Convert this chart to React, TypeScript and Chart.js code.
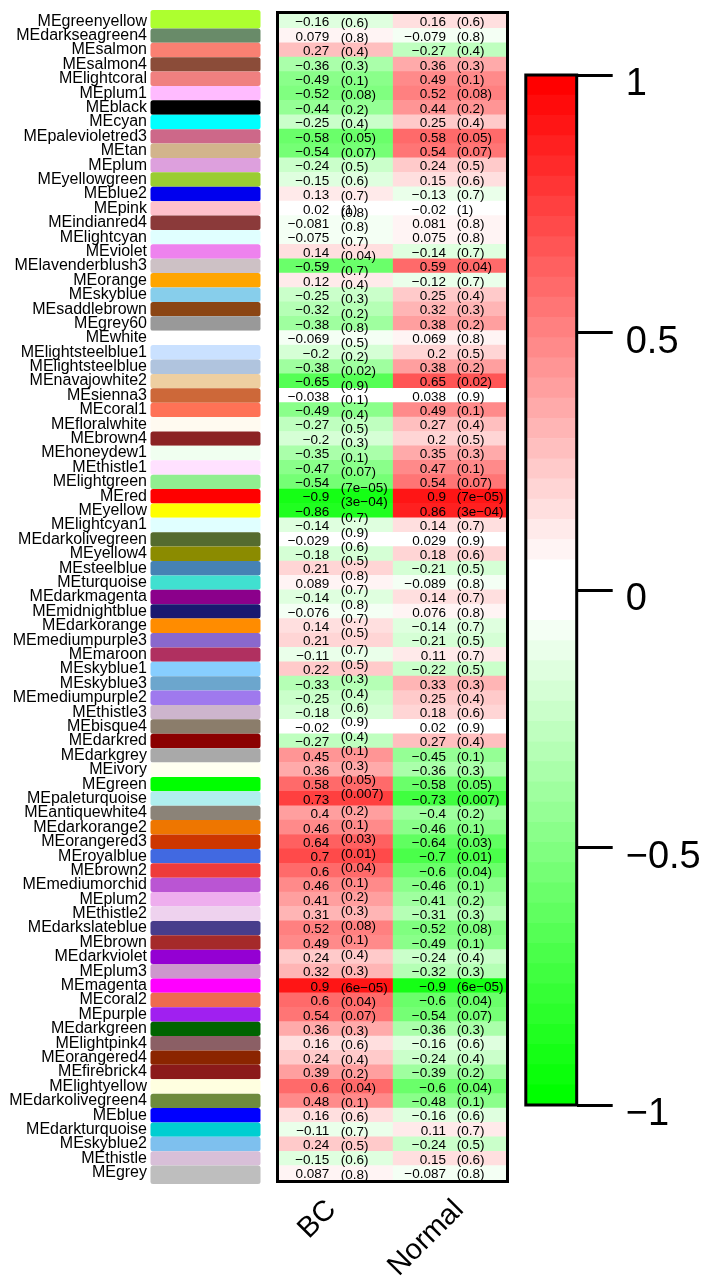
import React, { useEffect, useRef } from 'react';
import { Chart, registerables } from 'chart.js';

Chart.register(...registerables);

const FONT = '"Liberation Sans", Arial, Helvetica, sans-serif';

const modules = [
  'MEgreenyellow', 'MEdarkseagreen4', 'MEsalmon', 'MEsalmon4', 'MElightcoral', 'MEplum1', 'MEblack', 'MEcyan', 'MEpalevioletred3', 'MEtan',
  'MEplum', 'MEyellowgreen', 'MEblue2', 'MEpink', 'MEindianred4', 'MElightcyan', 'MEviolet', 'MElavenderblush3', 'MEorange', 'MEskyblue',
  'MEsaddlebrown', 'MEgrey60', 'MEwhite', 'MElightsteelblue1', 'MElightsteelblue', 'MEnavajowhite2', 'MEsienna3', 'MEcoral1', 'MEfloralwhite', 'MEbrown4',
  'MEhoneydew1', 'MEthistle1', 'MElightgreen', 'MEred', 'MEyellow', 'MElightcyan1', 'MEdarkolivegreen', 'MEyellow4', 'MEsteelblue', 'MEturquoise',
  'MEdarkmagenta', 'MEmidnightblue', 'MEdarkorange', 'MEmediumpurple3', 'MEmaroon', 'MEskyblue1', 'MEskyblue3', 'MEmediumpurple2', 'MEthistle3', 'MEbisque4',
  'MEdarkred', 'MEdarkgrey', 'MEivory', 'MEgreen', 'MEpaleturquoise', 'MEantiquewhite4', 'MEdarkorange2', 'MEorangered3', 'MEroyalblue', 'MEbrown2',
  'MEmediumorchid', 'MEplum2', 'MEthistle2', 'MEdarkslateblue', 'MEbrown', 'MEdarkviolet', 'MEplum3', 'MEmagenta', 'MEcoral2', 'MEpurple',
  'MEdarkgreen', 'MElightpink4', 'MEorangered4', 'MEfirebrick4', 'MElightyellow', 'MEdarkolivegreen4', 'MEblue', 'MEdarkturquoise', 'MEskyblue2', 'MEthistle', 'MEgrey',
];

const moduleColors = [
  '#ADFF2F', '#698B69', '#FA8072', '#8B4C39', '#F08080', '#FFBBFF', '#000000', '#00FFFF', '#CD6889', '#D2B48C',
  '#DDA0DD', '#9ACD32', '#0000EE', '#FFC0CB', '#8B3A3A', '#E0FFFF', '#EE82EE', '#CDC1C5', '#FFA500', '#87CEEB',
  '#8B4513', '#999999', '#FFFFFF', '#CAE1FF', '#B0C4DE', '#EECFA1', '#CD6839', '#FF7256', '#FFFAF0', '#8B2323',
  '#F0FFF0', '#FFE1FF', '#90EE90', '#FF0000', '#FFFF00', '#E0FFFF', '#556B2F', '#8B8B00', '#4682B4', '#40E0D0',
  '#8B008B', '#191970', '#FF8C00', '#8968CD', '#B03060', '#87CEFF', '#6CA6CD', '#9F79EE', '#CDB5CD', '#8B7D6B',
  '#8B0000', '#A9A9A9', '#FFFFF0', '#00FF00', '#AFEEEE', '#8B8378', '#EE7600', '#CD3700', '#4169E1', '#EE3B3B',
  '#BA55D3', '#EEAEEE', '#EED2EE', '#483D8B', '#A52A2A', '#9400D3', '#CD96CD', '#FF00FF', '#EE6A50', '#A020F0',
  '#006400', '#8B5F65', '#8B2500', '#8B1A1A', '#FFFFE0', '#6E8B3D', '#0000FF', '#00CED1', '#7EC0EE', '#D8BFD8', '#BEBEBE',
];

const conditions = ['BC', 'Normal'];

const bcCor = [
  -0.16, 0.079, 0.27, -0.36, -0.49, -0.52, -0.44, -0.25, -0.58, -0.54,
  -0.24, -0.15, 0.13, 0.02, -0.081, -0.075, 0.14, -0.59, 0.12, -0.25,
  -0.32, -0.38, -0.069, -0.2, -0.38, -0.65, -0.038, -0.49, -0.27, -0.2,
  -0.35, -0.47, -0.54, -0.9, -0.86, -0.14, -0.029, -0.18, 0.21, 0.089,
  -0.14, -0.076, 0.14, 0.21, -0.11, 0.22, -0.33, -0.25, -0.18, -0.02,
  -0.27, 0.45, 0.36, 0.58, 0.73, 0.4, 0.46, 0.64, 0.7, 0.6,
  0.46, 0.41, 0.31, 0.52, 0.49, 0.24, 0.32, 0.9, 0.6, 0.54,
  0.36, 0.16, 0.24, 0.39, 0.6, 0.48, 0.16, -0.11, 0.24, -0.15, 0.087,
];

const normalCor = [
  0.16, -0.079, -0.27, 0.36, 0.49, 0.52, 0.44, 0.25, 0.58, 0.54,
  0.24, 0.15, -0.13, -0.02, 0.081, 0.075, -0.14, 0.59, -0.12, 0.25,
  0.32, 0.38, 0.069, 0.2, 0.38, 0.65, 0.038, 0.49, 0.27, 0.2,
  0.35, 0.47, 0.54, 0.9, 0.86, 0.14, 0.029, 0.18, -0.21, -0.089,
  0.14, 0.076, -0.14, -0.21, 0.11, -0.22, 0.33, 0.25, 0.18, 0.02,
  0.27, -0.45, -0.36, -0.58, -0.73, -0.4, -0.46, -0.64, -0.7, -0.6,
  -0.46, -0.41, -0.31, -0.52, -0.49, -0.24, -0.32, -0.9, -0.6, -0.54,
  -0.36, -0.16, -0.24, -0.39, -0.6, -0.48, -0.16, 0.11, -0.24, 0.15, -0.087,
];

const pValues = [
  0.6, 0.8, 0.4, 0.3, 0.1, 0.08, 0.2, 0.4, 0.05, 0.07,
  0.5, 0.6, 0.7, 1, 0.8, 0.8, 0.7, 0.04, 0.7, 0.4,
  0.3, 0.2, 0.8, 0.5, 0.2, 0.02, 0.9, 0.1, 0.4, 0.5,
  0.3, 0.1, 0.07, 7e-5, 3e-4, 0.7, 0.9, 0.6, 0.5, 0.8,
  0.7, 0.8, 0.7, 0.5, 0.7, 0.5, 0.3, 0.4, 0.6, 0.9,
  0.4, 0.1, 0.3, 0.05, 0.007, 0.2, 0.1, 0.03, 0.01, 0.04,
  0.1, 0.2, 0.3, 0.08, 0.1, 0.4, 0.3, 6e-5, 0.04, 0.07,
  0.3, 0.6, 0.4, 0.2, 0.04, 0.1, 0.6, 0.7, 0.5, 0.6, 0.8,
];

const colorbarTicks = [-1, -0.5, 0, 0.5, 1];

// layout: in the BC column the p-value labels sit a little above their rows
// [firstRow, lastRow (1-based), shift in rows]
const BC_P_SHIFT: [number, number, number][] = [
  [15, 33, -0.76], [34, 35, -0.67], [36, 44, -0.56], [45, 55, -0.37], [56, 66, -0.24], [67, 67, -0.1],
];

const N_COLORS = 51; // greenWhiteRed(50)

function paletteColor(k: number): string {
  let r: number, g: number, b: number;
  if (k < 25) { r = k / 24; g = 1; b = k / 24; }
  else if (k === 25) { r = 1; g = 1; b = 1; }
  else { r = 1; g = 1 - (k - 26) / 24; b = 1 - (k - 26) / 24; }
  return `rgb(${Math.round(r * 255)},${Math.round(g * 255)},${Math.round(b * 255)})`;
}

function colorFor(v: number): string {
  const k = Math.min(N_COLORS - 1, Math.max(0, Math.floor(((v + 1) / 2) * N_COLORS)));
  return paletteColor(k);
}

const fmtNum = (v: number) => (v < 0 ? '\u2212' : '') + String(Math.abs(v));
const fmtP = (p: number) => {
  if (p < 0.001) {
    const [m, e] = p.toExponential(0).split('e');
    const ev = parseInt(e, 10);
    return `${m}e${ev < 0 ? '\u2212' : '+'}${String(Math.abs(ev)).padStart(2, '0')}`;
  }
  return String(p);
};
const bcShift = (row: number) => {
  for (const [a, b, s] of BC_P_SHIFT) if (row >= a && row <= b) return s;
  return 0.05;
};

const heatmapDecor = {
  id: 'heatmapDecor',
  afterDatasetsDraw(chart: any) {
    const { ctx, chartArea: a, scales } = chart;
    const x = scales.x;
    const y = scales.y;
    const rowH = Math.abs(y.getPixelForValue(1) - y.getPixelForValue(0));
    ctx.save();
    // module colour swatches
    modules.forEach((_, i) => {
      const yc = y.getPixelForValue(i);
      let top = yc - rowH / 2;
      let bot = yc + rowH / 2;
      if (i === 0) top -= 4;
      if (i === modules.length - 1) bot += 4;
      ctx.fillStyle = moduleColors[i];
      ctx.beginPath();
      (ctx as any).roundRect(150.5, top, 110, bot - top, 2.5);
      ctx.fill();
    });
    // cell texts
    ctx.font = `13.5px ${FONT}`;
    ctx.fillStyle = '#000';
    ctx.textBaseline = 'middle';
    const bcX = x.getPixelForValue(0.5);
    const nmX = x.getPixelForValue(1.5);
    modules.forEach((_, i) => {
      const yv = y.getPixelForValue(i) + 1.5;
      ctx.textAlign = 'right';
      ctx.fillText(fmtNum(bcCor[i]), bcX - 6.4, yv);
      ctx.fillText(fmtNum(normalCor[i]), nmX - 3.3, yv);
      ctx.textAlign = 'left';
      ctx.fillText(`(${fmtP(pValues[i])})`, bcX + 5, y.getPixelForValue(i + bcShift(i + 1)) + 1.5);
      ctx.fillText(`(${fmtP(pValues[i])})`, nmX + 7.4, yv);
    });
    // frame
    ctx.lineWidth = 3;
    ctx.strokeStyle = '#000';
    ctx.strokeRect(a.left - 1.5, a.top - 1.5, a.right - a.left + 3, a.bottom - a.top + 3);
    // column labels
    ctx.font = `29px ${FONT}`;
    ctx.textAlign = 'right';
    ctx.textBaseline = 'alphabetic';
    const anchors = [bcX + 1.5, nmX + 15.5];
    conditions.forEach((c, j) => {
      ctx.save();
      ctx.translate(anchors[j], a.bottom + 31);
      ctx.rotate(-Math.PI / 4);
      ctx.fillText(c, 0, 0);
      ctx.restore();
    });
    ctx.restore();
  },
};

const colorbarFrame = {
  id: 'colorbarFrame',
  afterDatasetsDraw(chart: any) {
    const { ctx, chartArea: a } = chart;
    ctx.save();
    ctx.lineWidth = 3;
    ctx.strokeStyle = '#000';
    ctx.strokeRect(a.left, a.top, a.right - a.left, a.bottom - a.top);
    ctx.restore();
  },
};

export default function App() {
  const heatRef = useRef<HTMLCanvasElement>(null);
  const barRef = useRef<HTMLCanvasElement>(null);

  useEffect(() => {
    const heat = new Chart(heatRef.current as HTMLCanvasElement, {
      type: 'bar',
      data: {
        labels: modules,
        datasets: conditions.map((c, j) => ({
          label: c,
          data: modules.map(() => [j, j + 1]) as any,
          backgroundColor: (j === 0 ? bcCor : normalCor).map(colorFor),
          borderWidth: 0,
          grouped: false,
          barPercentage: 1,
          categoryPercentage: 1,
        })),
      },
      options: {
        indexAxis: 'y',
        animation: false,
        responsive: false,
        devicePixelRatio: 1,
        events: [],
        layout: { padding: { left: 0, right: 205, top: 14, bottom: 98 } },
        plugins: { legend: { display: false }, tooltip: { enabled: false } },
        scales: {
          x: { type: 'linear', min: 0, max: 2, display: false },
          y: {
            type: 'category',
            position: 'left',
            offset: true,
            grid: { display: false, drawTicks: true, tickLength: 132 },
            border: { display: false },
            ticks: { autoSkip: false, padding: 0, color: '#000', font: { family: FONT, size: 16 } },
            afterFit: (s: any) => { s.width = 279; s.paddingTop = 0; s.paddingBottom = 0; },
          },
        },
      } as any,
      plugins: [heatmapDecor],
    });

    const bandIdx = Array.from({ length: N_COLORS }, (_, k) => k);
    const bar = new Chart(barRef.current as HTMLCanvasElement, {
      type: 'bar',
      data: {
        labels: [''],
        datasets: bandIdx.map((k) => ({
          data: [[-1 + (2 * k) / N_COLORS, -1 + (2 * (k + 1)) / N_COLORS]] as any,
          backgroundColor: paletteColor(k),
          borderWidth: 0,
          grouped: false,
          barPercentage: 1,
          categoryPercentage: 1,
        })),
      },
      options: {
        animation: false,
        responsive: false,
        devicePixelRatio: 1,
        events: [],
        layout: { padding: { left: 525.8, right: 0, top: 75, bottom: 173 } },
        plugins: { legend: { display: false }, tooltip: { enabled: false } },
        scales: {
          x: { type: 'category', display: false, offset: true },
          y: {
            type: 'linear',
            position: 'right',
            min: -1,
            max: 1,
            afterBuildTicks: (s: any) => { s.ticks = colorbarTicks.map((v) => ({ value: v })); },
            grid: { drawOnChartArea: false, drawTicks: true, tickLength: 36, tickWidth: 3, tickColor: '#000' },
            border: { display: false },
            ticks: {
              padding: 13,
              labelOffset: 10,
              color: '#000',
              font: { family: FONT, size: 38 },
              callback: (v: any) => fmtNum(Number(v)),
            },
            afterFit: (s: any) => { s.width = 711 - 576.7; },
          },
        },
      } as any,
      plugins: [colorbarFrame],
    });

    return () => {
      heat.destroy();
      bar.destroy();
    };
  }, []);

  return (
    <div style={{ position: 'fixed', left: 0, top: 0, width: 711, height: 1278, background: '#fff' }}>
      <canvas ref={heatRef} width={711} height={1278} style={{ position: 'absolute', left: 0, top: 0, width: 711, height: 1278 }} />
      <canvas ref={barRef} width={711} height={1278} style={{ position: 'absolute', left: 0, top: 0, width: 711, height: 1278, pointerEvents: 'none' }} />
    </div>
  );
}
